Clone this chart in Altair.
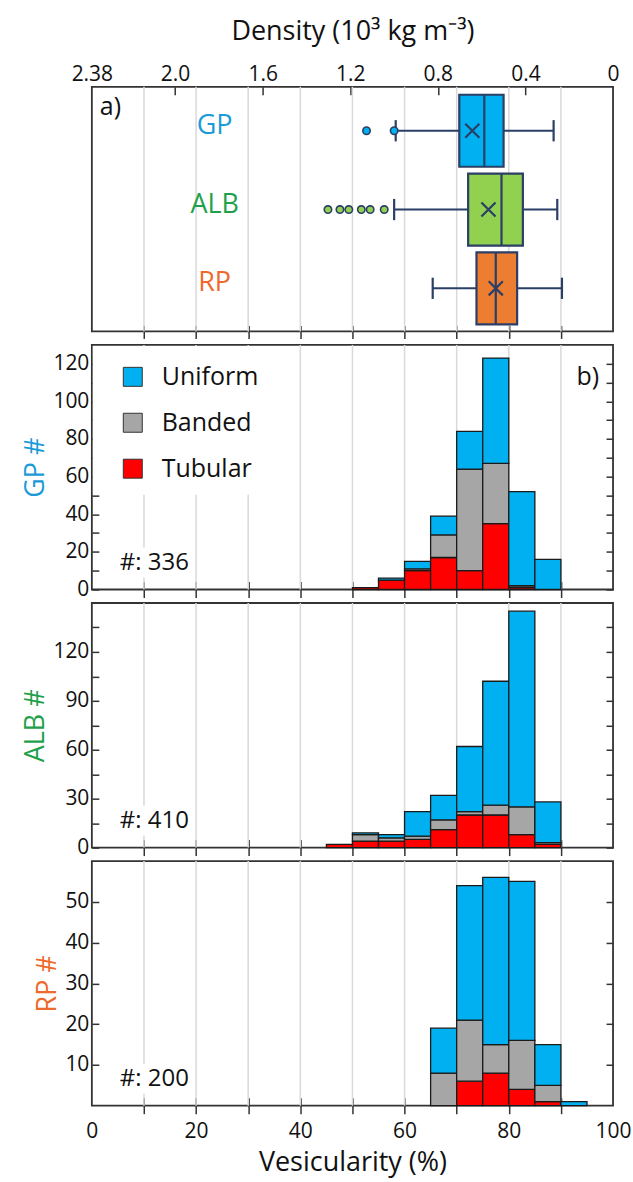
import altair as alt
import pandas as pd

# ---------------- data ----------------
BIN_WIDTH = 5

gp_bin_start = [50, 55, 60, 65, 70, 75, 80, 85]
gp_tubular = [1, 5, 10, 17, 10, 35, 1, 0]
gp_banded = [0, 0, 1, 12, 54, 32, 1, 0]
gp_uniform = [0, 1, 4, 10, 20, 56, 50, 16]

alb_bin_start = [45, 50, 55, 60, 65, 70, 75, 80, 85]
alb_tubular = [2, 4, 4, 5, 11, 20, 20, 8, 2]
alb_banded = [0, 4, 2, 2, 6, 2, 6, 17, 1]
alb_uniform = [0, 1, 2, 15, 15, 40, 76, 120, 25]

rp_bin_start = [65, 70, 75, 80, 85, 90]
rp_tubular = [0, 6, 8, 4, 1, 0]
rp_banded = [8, 15, 7, 12, 4, 0]
rp_uniform = [11, 33, 41, 39, 10, 1]

texture_types = ["Uniform", "Banded", "Tubular"]
texture_colors = ["#00B0F0", "#A6A6A6", "#FF0000"]

groups = ["GP", "ALB", "RP"]
group_fill = ["#00B0F0", "#92D050", "#ED7D31"]
group_text = ["#1B9AD8", "#1FA14C", "#EE6A2C"]
group_pos = [1, 2, 3]
box_q1 = [70.5, 72.2, 73.8]
box_median = [75.3, 78.6, 77.5]
box_q3 = [79.0, 82.7, 81.6]
box_mean = [73.0, 76.1, 77.5]
whisker_low = [58.3, 58.0, 65.4]
whisker_high = [88.6, 89.3, 90.2]
outlier_group = ["GP", "GP", "ALB", "ALB", "ALB", "ALB", "ALB", "ALB"]
outlier_value = [52.7, 58.0, 45.3, 47.6, 49.3, 51.7, 53.4, 56.1]

density_ticks = [2.38, 2.0, 1.6, 1.2, 0.8, 0.4, 0.0]
vesic_ticks = [0, 10, 20, 30, 40, 50, 60, 70, 80, 90, 100]
grid_values = [10, 20, 30, 40, 50, 60, 70, 80, 90]

# ---------------- style ----------------
FONT = "Open Sans"
W, H = 522, 245
FRAME = "#333333"
NAVY = "#2B3F66"
LABEL_SIZE = 21
TITLE_SIZE = 27

x_scale = alt.Scale(domain=[0, 100], nice=False, zero=False)
fill_types = alt.Fill("type:N", scale=alt.Scale(domain=texture_types, range=texture_colors), legend=None)
hide_ends = {"condition": {"test": "datum.value == 0 || datum.value == 100", "value": 0}, "value": 1}


def grid_layer(axis):
    return alt.Chart(pd.DataFrame({"v": grid_values})).mark_rule(
        color="#D9D9D9", strokeWidth=1.5
    ).encode(x=alt.X("v:Q", scale=x_scale, axis=axis))


def hist_df(starts, tub, ban, uni):
    rows = []
    for s, t, b, u in zip(starts, tub, ban, uni):
        base = 0
        for typ, c in (("Tubular", t), ("Banded", b), ("Uniform", u)):
            if c > 0:
                rows.append({"start": s, "end": s + BIN_WIDTH, "type": typ, "y0": base, "y1": base + c})
            base += c
    return pd.DataFrame(rows)


def hist_panel(name, color, starts, tub, ban, uni, ymax, yvals, label_every, total, last=False, legend=False):
    df = hist_df(starts, tub, ban, uni)
    y_scale = alt.Scale(domain=[0, ymax], nice=False, zero=True)
    x_axis_kwargs = dict(
        values=vesic_ticks, tickSize=16, offset=-8, domain=False, grid=False,
        tickColor=FRAME, tickWidth=1.5, tickOpacity=hide_ends,
        labelFlush=False, labelOverlap=False,
    )
    if last:
        x_axis = alt.Axis(labels=True, labelExpr="datum.value % 20 == 0 ? datum.label : ''",
                          labelFontSize=LABEL_SIZE, labelPadding=7,
                          title="Vesicularity (%)", titleFontSize=TITLE_SIZE, titlePadding=8,
                          **x_axis_kwargs)
    else:
        x_axis = alt.Axis(labels=False, title=None, **x_axis_kwargs)
    if label_every:
        lexpr = f"datum.value % {label_every} == 0 ? datum.label : ''"
    else:
        lexpr = "datum.label"
    y_axis = alt.Axis(
        values=yvals, labelExpr=lexpr, tickSize=7, offset=-7, domain=False, grid=False,
        tickColor=FRAME, tickWidth=1.5, labelFontSize=LABEL_SIZE, labelPadding=3,
        labelOverlap=False, labelFlush=False,
        title=f"{name} #", titleColor=color, titleFontSize=TITLE_SIZE, titlePadding=3,
    )
    bars = alt.Chart(df).mark_rect(stroke="#1A1A1A", strokeWidth=1.3).encode(
        x=alt.X("start:Q", scale=x_scale, axis=x_axis),
        x2="end:Q",
        y=alt.Y("y0:Q", scale=y_scale, axis=y_axis),
        y2="y1:Q",
        fill=fill_types,
    )
    right_axis = alt.Chart(df).mark_point(opacity=0).encode(
        y=alt.Y("y1:Q", scale=y_scale, axis=alt.Axis(
            orient="right", values=yvals, labels=False, tickSize=7, offset=-7,
            domain=False, grid=False, tickColor=FRAME, tickWidth=1.5, title=None)),
    )
    count_bg = alt.Chart(pd.DataFrame({"t": [f"#: {total}"]})).mark_rect(color="white").encode(
        x=alt.value(26), x2=alt.value(100), y=alt.value(H - 42), y2=alt.value(H - 12)
    )
    count_txt = alt.Chart(pd.DataFrame({"t": [f"#: {total}"]})).mark_text(
        align="left", baseline="middle", fontSize=24, font=FONT, color="#111111"
    ).encode(x=alt.value(28), y=alt.value(H - 27), text="t:N")
    layers = [grid_layer(x_axis), count_bg]
    if legend:
        leg_bg = alt.Chart(pd.DataFrame({"t": ["bg"]})).mark_rect(color="white").encode(
            x=alt.value(1), x2=alt.value(185), y=alt.value(1), y2=alt.value(150)
        )
        layers.append(leg_bg)
    layers += [bars, right_axis, count_txt]
    if legend:
        leg_df = pd.DataFrame({"type": texture_types})
        leg_y = alt.Y("type:N", scale=alt.Scale(type="point", domain=texture_types, range=[32, 124], padding=0), axis=None)
        leg_sq = alt.Chart(leg_df).mark_point(shape="square", filled=True, size=361, stroke="#333333",
                                              strokeWidth=1, opacity=1).encode(
            x=alt.value(41), y=leg_y, fill=fill_types)
        leg_tx = alt.Chart(leg_df).mark_text(align="left", baseline="middle", fontSize=25, font=FONT,
                                             color="#111111").encode(
            x=alt.value(70), y=leg_y, text="type:N")
        b_txt = alt.Chart(pd.DataFrame({"t": ["b)"]})).mark_text(
            align="right", baseline="middle", fontSize=25, font=FONT, color="#111111"
        ).encode(x=alt.value(508), y=alt.value(32), text="t:N")
        layers += [leg_sq, leg_tx, b_txt]
    return alt.layer(*layers).resolve_scale(y="independent").properties(width=W, height=H)


# ---------------- box panel ----------------
box_df = pd.DataFrame({
    "group": groups, "pos": group_pos, "q1": box_q1, "median": box_median, "q3": box_q3,
    "mean": box_mean, "wlow": whisker_low, "whigh": whisker_high,
})
HALF = 0.457
CAP = 0.135
box_df["top"] = box_df["pos"] - HALF
box_df["bot"] = box_df["pos"] + HALF
box_df["ctop"] = box_df["pos"] - CAP
box_df["cbot"] = box_df["pos"] + CAP
out_df = pd.DataFrame({"group": outlier_group, "value": outlier_value})
out_df["pos"] = out_df["group"].map(dict(zip(groups, group_pos)))

y_box = alt.Scale(domain=[0.442, 3.547], reverse=True, nice=False, zero=False)
fill_groups = alt.Fill("group:N", scale=alt.Scale(domain=groups, range=group_fill), legend=None)

box_x_axis = alt.Axis(values=grid_values, tickSize=13, offset=-6, domain=False, grid=False,
                      labels=False, title=None, tickColor=FRAME, tickWidth=1.5)

whisk = alt.Chart(box_df).mark_rule(color=NAVY, strokeWidth=2).encode(
    x=alt.X("wlow:Q", scale=x_scale, axis=box_x_axis), x2="whigh:Q",
    y=alt.Y("pos:Q", scale=y_box, axis=None))
caps_lo = alt.Chart(box_df).mark_rule(color=NAVY, strokeWidth=2.2).encode(
    x=alt.X("wlow:Q", scale=x_scale, axis=box_x_axis), y=alt.Y("ctop:Q", scale=y_box, axis=None), y2="cbot:Q")
caps_hi = alt.Chart(box_df).mark_rule(color=NAVY, strokeWidth=2.2).encode(
    x=alt.X("whigh:Q", scale=x_scale, axis=box_x_axis), y=alt.Y("ctop:Q", scale=y_box, axis=None), y2="cbot:Q")
boxes = alt.Chart(box_df).mark_rect(stroke=NAVY, strokeWidth=2.2).encode(
    x=alt.X("q1:Q", scale=x_scale, axis=box_x_axis), x2="q3:Q",
    y=alt.Y("top:Q", scale=y_box, axis=None), y2="bot:Q", fill=fill_groups)
medians = alt.Chart(box_df).mark_rule(color=NAVY, strokeWidth=2.2).encode(
    x=alt.X("median:Q", scale=x_scale, axis=box_x_axis), y=alt.Y("top:Q", scale=y_box, axis=None), y2="bot:Q")
means = alt.Chart(box_df).mark_point(shape="M-1,-1L1,1M-1,1L1,-1", filled=False, size=200,
                                     color=NAVY, strokeWidth=2.2, opacity=1).encode(
    x=alt.X("mean:Q", scale=x_scale, axis=box_x_axis), y=alt.Y("pos:Q", scale=y_box, axis=None))
outliers = alt.Chart(out_df).mark_point(shape="circle", filled=True, size=55, stroke=NAVY,
                                        strokeWidth=1.6, opacity=1).encode(
    x=alt.X("value:Q", scale=x_scale, axis=box_x_axis), y=alt.Y("pos:Q", scale=y_box, axis=None),
    fill=fill_groups)
group_labels = alt.Chart(box_df).mark_text(align="center", baseline="middle", fontSize=27, font=FONT,
                                           dy=-5).encode(
    x=alt.value(123), y=alt.Y("pos:Q", scale=y_box, axis=None), text="group:N",
    color=alt.Color("group:N", scale=alt.Scale(domain=groups, range=group_text), legend=None))
a_txt = alt.Chart(pd.DataFrame({"t": ["a)"]})).mark_text(
    align="left", baseline="middle", fontSize=25, font=FONT, color="#111111"
).encode(x=alt.value(8), y=alt.value(20), text="t:N")

dens_axis = alt.Axis(
    orient="top", values=density_ticks,
    labelExpr="datum.value == 0 ? '0' : (datum.value == 2.38 ? '2.38' : format(datum.value, '.1f'))",
    tickSize=8, offset=-8, domain=False, grid=False, tickColor=FRAME, tickWidth=1.5,
    tickOpacity={"condition": {"test": "datum.value == 0 || datum.value == 2.38", "value": 0}, "value": 1},
    labelFontSize=LABEL_SIZE, labelPadding=2, labelFlush=False, labelOverlap=False,
    title="Density (10³ kg m⁻³)", titleFontSize=TITLE_SIZE, titlePadding=18,
)
dens_layer = alt.Chart(pd.DataFrame({"d": density_ticks})).mark_point(opacity=0).encode(
    x=alt.X("d:Q", scale=alt.Scale(domain=[2.38, 0], nice=False, zero=False), axis=dens_axis),
    y=alt.value(0))

box_core = alt.layer(
    grid_layer(box_x_axis), whisk, caps_lo, caps_hi, boxes, medians, means, outliers, group_labels, a_txt
)
box_panel = alt.layer(box_core, dens_layer).resolve_scale(x="independent").properties(width=W, height=H)

gp_panel = hist_panel("GP", "#1B9AD8", gp_bin_start, gp_tubular, gp_banded, gp_uniform,
                      130, list(range(0, 130, 10)), 20, 336, legend=True)
alb_panel = hist_panel("ALB", "#1FA14C", alb_bin_start, alb_tubular, alb_banded, alb_uniform,
                       150, list(range(0, 150, 15)), 30, 410)
rp_panel = hist_panel("RP", "#EE6A2C", rp_bin_start, rp_tubular, rp_banded, rp_uniform,
                      60, [10, 20, 30, 40, 50], None, 200, last=True)

chart = alt.vconcat(box_panel, gp_panel, alb_panel, rp_panel, spacing=13.5, bounds="flush").resolve_scale(
    x="independent", y="independent", fill="independent", color="independent"
).properties(
    padding={"left": 21, "top": 16, "right": 1, "bottom": 2}
).configure(font=FONT).configure_view(
    stroke=FRAME, strokeWidth=1.8
).configure_axis(
    labelFont=FONT, titleFont=FONT, labelColor="#111111", titleColor="#111111",
    titleFontWeight="normal"
)

chart.save("out.html", embed_options={"renderer": "svg", "actions": False})
